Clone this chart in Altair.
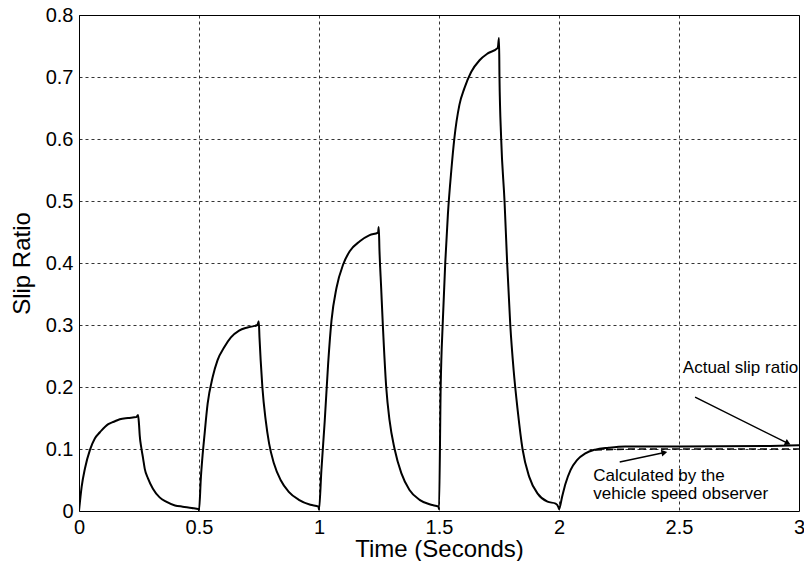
import altair as alt
import pandas as pd

# ---- Actual slip ratio ----
time_s = [0.000, 0.011, 0.025, 0.046, 0.066, 0.087, 0.094, 0.122, 0.145, 0.170, 0.204, 0.239,
          0.246, 0.250, 0.253, 0.260, 0.267, 0.274, 0.287, 0.308, 0.336, 0.363, 0.400, 0.432,
          0.470, 0.499,
          0.500, 0.508, 0.515, 0.522, 0.536, 0.557, 0.577, 0.605, 0.633, 0.667, 0.702, 0.743,
          0.749, 0.752, 0.757, 0.764, 0.778, 0.792, 0.812, 0.840, 0.874, 0.916, 0.964, 0.998,
          1.000, 1.010, 1.024, 1.038, 1.052, 1.073, 1.101, 1.128, 1.170, 1.211, 1.246,
          1.249, 1.252, 1.259, 1.266, 1.280, 1.294, 1.315, 1.343, 1.377, 1.419, 1.467, 1.498,
          1.500, 1.507, 1.516, 1.526, 1.537, 1.551, 1.564, 1.585, 1.606, 1.634, 1.669, 1.703, 1.745,
          1.750, 1.752, 1.759, 1.773, 1.784, 1.797, 1.811, 1.828, 1.848, 1.876, 1.911, 1.952,
          1.986, 1.998,
          2.000, 2.013, 2.027, 2.048, 2.075, 2.110, 2.151, 2.207, 2.276, 2.500, 2.880, 3.000]
slip_actual = [0.000, 0.039, 0.069, 0.099, 0.117, 0.127, 0.130, 0.140, 0.144, 0.148, 0.150, 0.1515,
               0.155, 0.140, 0.122, 0.101, 0.085, 0.068, 0.053, 0.036, 0.022, 0.015, 0.009, 0.007,
               0.005, 0.003,
               0.001, 0.055, 0.090, 0.119, 0.173, 0.216, 0.243, 0.264, 0.280, 0.291, 0.296, 0.300,
               0.306, 0.280, 0.243, 0.200, 0.146, 0.109, 0.077, 0.050, 0.031, 0.018, 0.010, 0.007,
               0.002, 0.066, 0.146, 0.237, 0.307, 0.360, 0.398, 0.419, 0.435, 0.445, 0.449,
               0.458, 0.420, 0.360, 0.300, 0.200, 0.146, 0.100, 0.061, 0.034, 0.018, 0.010, 0.007,
               0.003, 0.200, 0.307, 0.400, 0.478, 0.548, 0.601, 0.655, 0.682, 0.708, 0.727, 0.738, 0.747,
               0.763, 0.700, 0.601, 0.500, 0.400, 0.300, 0.227, 0.162, 0.100, 0.055, 0.028, 0.015,
               0.012, 0.006,
               0.003, 0.023, 0.044, 0.066, 0.082, 0.093, 0.099, 0.102, 0.104, 0.104, 0.105, 0.106]

# ---- Calculated by the vehicle speed observer (visible, dashed part) ----
calc_time = [2.150, 2.300, 2.600, 3.000]
slip_calc = [0.0985, 0.1000, 0.1000, 0.1000]

# ---- Annotations (data coordinates) ----
note_text = ["Actual slip ratio", "Calculated by the", "vehicle speed observer"]
note_t = [2.516, 2.143, 2.143]
note_s = [0.222, 0.0487, 0.0193]

arrow_t = [2.567, 2.253]
arrow_s = [0.1836, 0.0792]
arrow_t2 = [2.950, 2.435]
arrow_s2 = [0.1098, 0.0940]
arrow_angle = [116, 78]

x_ticks = [0, 0.5, 1, 1.5, 2, 2.5, 3]
y_ticks = [0, 0.1, 0.2, 0.3, 0.4, 0.5, 0.6, 0.7, 0.8]

FONT = "Liberation Sans"

df = pd.DataFrame({"t": time_s, "s": slip_actual})
dfc = pd.DataFrame({"t": calc_time, "s": slip_calc})
dfn = pd.DataFrame({"t": note_t, "s": note_s, "label": note_text})
dfa = pd.DataFrame({"t": arrow_t, "s": arrow_s, "t2": arrow_t2, "s2": arrow_s2, "ang": arrow_angle})

x_enc = alt.X("t:Q", scale=alt.Scale(domain=[0, 3], nice=False, zero=False),
              axis=alt.Axis(values=x_ticks, format="~g", title="Time (Seconds)",
                            labelPadding=6, titlePadding=0, labelFlush=False,
                            labelOverlap=False))
y_enc = alt.Y("s:Q", scale=alt.Scale(domain=[0, 0.8], nice=False),
              axis=alt.Axis(values=y_ticks, format="~g", title="Slip Ratio",
                            labelPadding=6, titlePadding=11, labelFlush=False,
                            labelOverlap=False))

line = alt.Chart(df).mark_line(color="black", strokeWidth=2, clip=True,
                               interpolate="monotone").encode(
    x=x_enc, y=y_enc, order="t:Q")

calc = alt.Chart(dfc).mark_line(color="black", strokeWidth=1.6, strokeDash=[7, 4]).encode(
    x=x_enc, y=y_enc)

notes = alt.Chart(dfn).mark_text(align="left", baseline="alphabetic", font=FONT,
                                 fontSize=17, color="black").encode(
    x=x_enc, y=y_enc, text="label:N")

arrows = alt.Chart(dfa).mark_rule(color="black", strokeWidth=1.5).encode(
    x=x_enc, y=y_enc, x2="t2:Q", y2="s2:Q")

heads = alt.Chart(dfa).mark_point(shape="triangle", filled=True, color="black",
                                  size=45, opacity=1).encode(
    x=alt.X("t2:Q", scale=alt.Scale(domain=[0, 3], nice=False, zero=False)),
    y=alt.Y("s2:Q", scale=alt.Scale(domain=[0, 0.8], nice=False)),
    angle=alt.Angle("ang:Q", scale=None))

chart = alt.layer(line, calc, arrows, heads, notes).properties(
    width=720, height=496,
    autosize=alt.AutoSizeParams(type="none"),
    padding={"left": 71, "top": 7, "right": 5, "bottom": 50},
).configure_view(
    stroke="black", strokeWidth=1
).configure_axis(
    grid=True, gridColor="black", gridDash=[3, 3], gridWidth=0.8, gridOpacity=1,
    domain=False, ticks=False,
    labelFont=FONT, labelFontSize=20, labelColor="black",
    titleFont=FONT, titleFontSize=24, titleFontWeight="normal", titleColor="black",
)

chart.save("out.html", embed_options={"renderer": "svg", "actions": False})
